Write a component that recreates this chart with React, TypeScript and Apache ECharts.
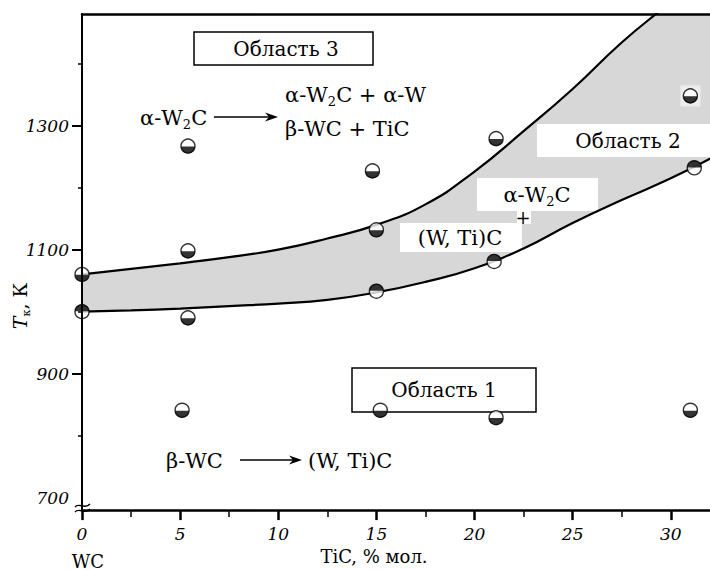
import React, { useEffect, useRef } from "react";
import * as echarts from "echarts";

// Axis ticks / labels
const xMajorTicks = [0, 5, 10, 15, 20, 25, 30];
const xMinorTicks = [2.5, 7.5, 12.5, 17.5, 22.5, 27.5];
const yLabelValues = [700, 900, 1100, 1300];
const yMajorTicks = [900, 1100, 1300];
const yMinorTicks = [800, 1000, 1200, 1400];

// Upper boundary of region 2
const upperX = [0, 2.5, 5, 7.5, 10, 12.5, 15, 17.5, 20, 22.5, 25, 27.5, 30, 32.5];
const upperY = [1060, 1069, 1078, 1088, 1100, 1118, 1140, 1173, 1226, 1291, 1359, 1434, 1500, 1570];

// Lower boundary of region 2
const lowerX = [0, 2.5, 5, 7.5, 10, 12.5, 15, 17.5, 20, 22.5, 25, 27.5, 30, 32.5];
const lowerY = [1000, 1002, 1005, 1009, 1013, 1019, 1031, 1048, 1070, 1102, 1143, 1180, 1215, 1255];

// Experimental points (white top, black bottom)
const pointX = [0, 5.4, 5.4, 5.4, 5.1, 15.2, 15, 14.8, 21.1, 21.1, 31, 31];
const pointY = [1060, 1267, 1098, 990, 841, 841, 1132, 1227, 829, 1279, 1348, 841];

// Experimental points on lower boundary (black top, white bottom)
const invX = [0, 15, 21, 31.2];
const invY = [1000, 1033, 1081, 1232];

// Point with a shaded background
const shadedX = [31];
const shadedY = [1348];

const FONT = "DejaVu Serif";

const zip = (xs: number[], ys: number[]) => xs.map((x, i) => [x, ys[i]]);

const HALF_BOTTOM = "path://M0,0 L20,0 A10,10 0 0 1 0,0 Z";
const HALF_TOP = "path://M0,10 L20,10 A10,10 0 0 0 0,10 Z";

function arrow(x1: number, x2: number, y: number) {
  return [
    { type: "line", z: 20, shape: { x1, y1: y, x2: x2 - 6, y2: y }, style: { stroke: "#000", lineWidth: 1.3 } },
    {
      type: "polygon",
      z: 20,
      shape: { points: [[x2 - 13, y - 4.5], [x2, y], [x2 - 13, y + 4.5], [x2 - 9, y]] },
      style: { fill: "#000" },
    },
  ];
}

// text with subscripts marked as {s|...}
function label(text: string, x: number, y: number, align = "left", size = 21) {
  const rich = {
    n: { fontFamily: FONT, fontSize: size, lineHeight: 26, verticalAlign: "middle", color: "#000" },
    s: { fontFamily: FONT, fontSize: Math.round(size * 0.6), lineHeight: 14, verticalAlign: "bottom", color: "#000" },
  };
  const marked = text.includes("{") ? text : `{n|${text}}`;
  return {
    type: "text",
    z: 20,
    x,
    y,
    style: {
      text: marked,
      rich,
      fill: "#000",
      align,
      verticalAlign: "middle",
    },
  };
}

export default function App() {
  const ref = useRef<HTMLDivElement>(null);

  useEffect(() => {
    if (!ref.current) return;
    const chart = echarts.init(ref.current, undefined, { renderer: "svg" });

    const axisLabelStyle = {
      fontFamily: FONT,
      fontStyle: "italic",
      fontSize: 17,
      color: "#000",
      formatter: (v: number) => String(v),
    };

    const lineCommon = { smooth: 0.5, symbol: "none", silent: true };

    const option: any = {
      animation: false,
      backgroundColor: "#fff",
      grid: { left: 82, top: 14, width: 630, height: 504, containLabel: false },
      xAxis: [
        {
          type: "value",
          min: 0,
          max: 32,
          position: "bottom",
          z: 10,
          axisLine: { show: true, onZero: false, lineStyle: { color: "#000", width: 2.5 } },
          axisTick: { show: true, customValues: xMajorTicks, length: 10, lineStyle: { color: "#000", width: 2.5 } },
          axisLabel: { show: true, customValues: xMajorTicks, margin: 15, ...axisLabelStyle },
          splitLine: { show: false },
          name: "TiC, % мол.",
          nameLocation: "middle",
          nameGap: 36,
          nameTextStyle: { fontFamily: FONT, fontSize: 18, color: "#000", padding: [0, 44, 0, 0] },
        },
        {
          type: "value",
          min: 0,
          max: 32,
          position: "bottom",
          z: 10,
          axisLine: { show: false, onZero: false },
          axisTick: { show: true, customValues: xMinorTicks, length: 7, lineStyle: { color: "#000", width: 1.5 } },
          axisLabel: { show: false },
          splitLine: { show: false },
        },
        {
          type: "value",
          min: 0,
          max: 32,
          position: "top",
          z: 10,
          axisLine: { show: true, onZero: false, lineStyle: { color: "#000", width: 2.5 } },
          axisTick: { show: false },
          axisLabel: { show: false },
          splitLine: { show: false },
        },
      ],
      yAxis: [
        {
          type: "value",
          min: 680,
          max: 1480,
          position: "left",
          z: 10,
          axisLine: { show: true, onZero: false, lineStyle: { color: "#000", width: 2 } },
          axisTick: { show: true, customValues: yMajorTicks, length: 10, lineStyle: { color: "#000", width: 2 } },
          axisLabel: { show: true, customValues: yLabelValues, margin: 13, ...axisLabelStyle },
          splitLine: { show: false },
        },
        {
          type: "value",
          min: 680,
          max: 1480,
          position: "left",
          z: 10,
          axisLine: { show: false, onZero: false },
          axisTick: { show: true, customValues: yMinorTicks, length: 4, lineStyle: { color: "#000", width: 1.5 } },
          axisLabel: { show: false },
          splitLine: { show: false },
        },
      ],
      series: [
        {
          type: "line",
          name: "band",
          data: zip(upperX, upperY),
          ...lineCommon,
          z: 1,
          lineStyle: { width: 0, opacity: 0 },
          areaStyle: { color: "#d7d7d7", opacity: 1, origin: "start" },
        },
        {
          type: "line",
          name: "below",
          data: zip(lowerX, lowerY),
          ...lineCommon,
          z: 2,
          lineStyle: { width: 0, opacity: 0 },
          areaStyle: { color: "#ffffff", opacity: 1, origin: "start" },
        },
        {
          type: "line",
          name: "upper",
          data: zip(upperX, upperY),
          ...lineCommon,
          z: 4,
          lineStyle: { color: "#000", width: 2.2 },
        },
        {
          type: "line",
          name: "lower",
          data: zip(lowerX, lowerY),
          ...lineCommon,
          z: 4,
          lineStyle: { color: "#000", width: 2.2 },
        },
        {
          type: "scatter",
          data: zip(shadedX, shadedY),
          symbol: "rect",
          symbolSize: [20, 21],
          z: 4,
          itemStyle: { color: "#f3f3f3", borderColor: "#e4e4e4", borderWidth: 1 },
        },
        {
          type: "scatter",
          data: zip(pointX, pointY),
          symbol: "circle",
          symbolSize: 14,
          z: 5,
          itemStyle: { color: "#fff", borderColor: "#000", borderWidth: 1.4 },
        },
        {
          type: "scatter",
          data: zip(pointX, pointY),
          symbol: HALF_BOTTOM,
          symbolSize: [14, 7],
          symbolOffset: [0, 3.9],
          z: 6,
          itemStyle: { color: "#000" },
        },
        {
          type: "scatter",
          data: zip(invX, invY),
          symbol: "circle",
          symbolSize: 14,
          z: 5,
          itemStyle: { color: "#fff", borderColor: "#000", borderWidth: 1.4 },
        },
        {
          type: "scatter",
          data: zip(invX, invY),
          symbol: HALF_TOP,
          symbolSize: [14, 7],
          symbolOffset: [0, -3.9],
          z: 6,
          itemStyle: { color: "#000" },
        },
      ],
      graphic: [
        // Region boxes
        { type: "rect", z: 3, shape: { x: 194, y: 32, width: 179, height: 33 }, style: { fill: "#fff", stroke: "#000", lineWidth: 1.5 } },
        { type: "rect", z: 3, shape: { x: 352, y: 368, width: 184, height: 44 }, style: { fill: "#fff", stroke: "#000", lineWidth: 1.5 } },
        { type: "rect", z: 3, shape: { x: 537, y: 124, width: 180, height: 33 }, style: { fill: "#fff" } },
        { type: "rect", z: 3, shape: { x: 477, y: 178, width: 121, height: 33 }, style: { fill: "#fff" } },
        { type: "rect", z: 3, shape: { x: 400, y: 223, width: 122, height: 29 }, style: { fill: "#fff" } },
        { type: "rect", z: 3, shape: { x: 517, y: 211, width: 14, height: 13 }, style: { fill: "#fff" } },
        label("Область 3", 286, 49, "center", 20),
        label("Область 1", 444, 390, "center", 20),
        label("Область 2", 628, 141, "center", 20),
        label("{n|α-W}{s|2}{n|C}", 537, 195, "center"),
        label("(W, Ti)C", 460, 238, "center"),
        label("+", 523, 217, "center", 18),
        label("{n|α-W}{s|2}{n|C}", 140, 118),
        ...arrow(214, 278, 117),
        label("{n|α-W}{s|2}{n|C + α-W}", 285, 95),
        label("β-WC + TiC", 285, 129),
        label("β-WC", 166, 461),
        ...arrow(240, 302, 460),
        label("(W, Ti)C", 308, 461),
        label("WC", 88, 561, "center", 18),
        // axis break at 700
        { type: "bezierCurve", z: 20, shape: { x1: 75, y1: 507, cpx1: 79, cpy1: 502, cpx2: 85, cpy2: 510, x2: 90, y2: 504 }, style: { stroke: "#000", lineWidth: 1.4, fill: null } },
        { type: "bezierCurve", z: 20, shape: { x1: 75, y1: 512, cpx1: 79, cpy1: 507, cpx2: 85, cpy2: 515, x2: 90, y2: 509 }, style: { stroke: "#000", lineWidth: 1.4, fill: null } },
        // y-axis name
        {
          type: "text",
          z: 20,
          x: 20,
          y: 306,
          rotation: Math.PI / 2,
          style: {
            text: "{t|T}{s|к}{n|, К}",
            align: "center",
            verticalAlign: "middle",
            fill: "#000",
            rich: {
              t: { fontFamily: FONT, fontStyle: "italic", fontSize: 19, lineHeight: 24, verticalAlign: "middle" },
              s: { fontFamily: FONT, fontSize: 11, lineHeight: 12, verticalAlign: "bottom" },
              n: { fontFamily: FONT, fontSize: 19, lineHeight: 24, verticalAlign: "middle" },
            },
          },
        },
      ],
    };

    chart.setOption(option);
    return () => chart.dispose();
  }, []);

  return (
    <div
      ref={ref}
      style={{ position: "fixed", left: 0, top: 0, width: 710, height: 570, background: "#fff" }}
    />
  );
}
